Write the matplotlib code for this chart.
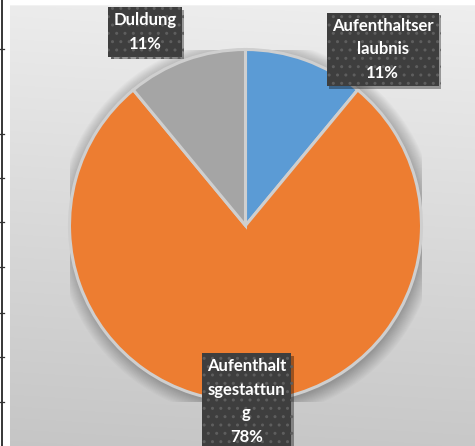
import numpy as np
import matplotlib
matplotlib.use("Agg")
import matplotlib.pyplot as plt
import matplotlib.patheffects as pe
from matplotlib.patches import Circle

# ---- data ----
categories = ["Aufenthaltserlaubnis", "Aufenthaltsgestattung", "Duldung"]
values = [11, 78, 11]
wrapped_names = ["Aufenthaltser\nlaubnis", "Aufenthalt\nsgestattun\ng", "Duldung"]
colors = ["#5b9bd5", "#ed7d31", "#a5a5a5"]
# label anchor (data coords of pie axes, radius = 1)
label_pos = [(0.78, 1.0), (0.005, -1.0), (-0.571, 1.10)]
sheet_row_lines = [49, 134, 178, 222, 267, 313, 357, 402]

W, H = 475, 446
DPI = 100
fig = plt.figure(figsize=(W / DPI, H / DPI), dpi=DPI)
fig.patch.set_facecolor("white")

# chart area background with gradient
bg = fig.add_axes([10 / W, 0, 1 - 10 / W, (H - 5) / H])
bg.set_axis_off()
yy, xx = np.mgrid[0:1:200j, 0:1:200j]
grad = 0.925 - 0.15 * yy + 0.01 * xx
bg.imshow(np.dstack([grad, grad, grad]), aspect="auto", extent=[0, 1, 0, 1],
          origin="upper", interpolation="bilinear")
bg.set_xlim(0, 1)
bg.set_ylim(0, 1)
bg.plot([0, 1], [1, 1], color="#f4f4f4", lw=1.2, transform=bg.transAxes)

# spreadsheet gridline remnants on the left
line_ax = fig.add_axes([0, 0, 1, 1], facecolor="none")
line_ax.set_axis_off()
line_ax.set_xlim(0, W)
line_ax.set_ylim(H, 0)
line_ax.plot([1.5, 1.5], [0, H], color="black", lw=1.1)
for y in sheet_row_lines:
    line_ax.plot([0, 4], [y, y], color="#333333", lw=0.9)

# pie axes
cx, cy, r = 245.5, 225.5, 176
ax = fig.add_axes([(cx - r) / W, 1 - (cy + r) / H, 2 * r / W, 2 * r / H])
ax.set_axis_off()

# soft shadow behind pie
for k in range(14):
    rr = 1.0 + 0.006 * k
    ax.add_patch(Circle((0.01, -0.015), rr, color="black", alpha=0.018, lw=0, zorder=0))

wedges, _ = ax.pie(values, colors=colors, startangle=90, counterclock=False,
                   radius=1, wedgeprops=dict(edgecolor="#cfcfcf", linewidth=2.2))
for w in wedges:
    w.set_zorder(2)
ax.set_xlim(-1, 1)
ax.set_ylim(-1, 1)
ax.set_aspect("equal")

total = sum(values)
for name, v, (lx, ly) in zip(wrapped_names, values, label_pos):
    txt = f"{name}\n{round(100 * v / total)}%"
    t = ax.text(lx, ly, txt, ha="center", va="center", fontsize=12, fontweight="bold",
                family=["Lato", "DejaVu Sans"], color="white", linespacing=1.58,
                zorder=5, clip_on=False,
                bbox=dict(boxstyle="square,pad=0.3", fc="#3e3e3e", ec="#5e5e5e",
                          lw=0, hatch=".."))
    t.get_bbox_patch().set_path_effects([
        pe.SimplePatchShadow(offset=(1.8, -1.8), shadow_rgbFace="black", alpha=0.35),
        pe.Normal()])

fig.savefig("out.png", dpi=DPI, facecolor="white")
